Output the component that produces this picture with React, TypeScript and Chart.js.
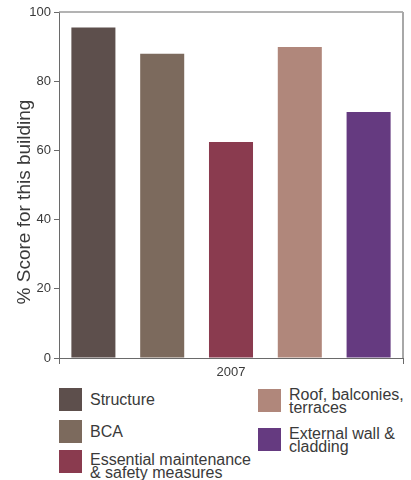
import React, { useEffect, useRef } from "react";
import { Chart, registerables } from "chart.js";

Chart.register(...registerables);

// Survey category and its series
const categories = ["2007"];
const seriesLabels = [
  "Structure",
  "BCA",
  "Essential maintenance\n& safety measures",
  "Roof, balconies,\nterraces",
  "External wall &\ncladding",
];
const seriesValues = [95.5, 87.9, 62.4, 89.9, 71.1];
const seriesColors = ["#5d4f4c", "#7c6a5d", "#8a3b4f", "#b0877b", "#653a80"];
const yTicks = [0, 20, 40, 60, 80, 100];
const yTitle = "% Score for this building";

const FONT = "'Liberation Sans', Arial, Helvetica, sans-serif";
const TEXT = "#3a3a3a";

// Frame (top and right edges) plus the rotated axis title
const framePlugin = {
  id: "frame",
  afterDraw(chart: any) {
    const { ctx, chartArea } = chart;
    ctx.save();
    ctx.strokeStyle = "#9a9a9a";
    ctx.lineWidth = 1.5;
    ctx.beginPath();
    ctx.moveTo(chartArea.left, chartArea.top);
    ctx.lineTo(chartArea.right, chartArea.top);
    ctx.stroke();
    ctx.lineWidth = 2;
    ctx.strokeStyle = "#a8a8a8";
    ctx.beginPath();
    ctx.moveTo(chartArea.right, chartArea.top);
    ctx.lineTo(chartArea.right, chartArea.bottom);
    ctx.stroke();

    ctx.translate(25, (chartArea.top + chartArea.bottom) / 2 + 17);
    ctx.rotate(-Math.PI / 2);
    ctx.fillStyle = TEXT;
    ctx.font = `19px ${FONT}`;
    ctx.textAlign = "center";
    ctx.textBaseline = "middle";
    ctx.fillText(yTitle, 0, 0);
    ctx.restore();
  },
};

export default function App() {
  const canvasRef = useRef<HTMLCanvasElement | null>(null);

  useEffect(() => {
    document.body.style.margin = "0";
    const canvas = canvasRef.current;
    if (!canvas) return;
    const chart = new Chart(canvas, {
      type: "bar",
      data: {
        labels: categories,
        datasets: seriesLabels.map((label, i) => ({
          label,
          data: [seriesValues[i]],
          backgroundColor: seriesColors[i],
          borderWidth: 0,
          categoryPercentage: 1,
          barPercentage: 0.64,
        })),
      },
      options: {
        responsive: false,
        animation: false,
        layout: { padding: { left: 0, right: 8, top: 12, bottom: 0 } },
        plugins: {
          legend: { display: false },
          tooltip: { enabled: false },
        },
        scales: {
          x: {
            grid: {
              display: true,
              drawOnChartArea: false,
              drawTicks: true,
              tickLength: 6,
              color: "#6a6a6a",
            },
            border: { display: true, color: "#6a6a6a", width: 1 },
            ticks: {
              color: TEXT,
              font: { family: FONT, size: 13 },
              padding: 1,
            },
            afterFit(scale: any) {
              scale.height = 27;
            },
          },
          y: {
            min: 0,
            max: 100,
            afterBuildTicks(scale: any) {
              scale.ticks = yTicks.map((v) => ({ value: v }));
            },
            grid: {
              display: true,
              drawOnChartArea: false,
              drawTicks: true,
              tickLength: 5,
              color: "#6a6a6a",
            },
            border: { display: true, color: "#6a6a6a", width: 1 },
            ticks: {
              color: TEXT,
              font: { family: FONT, size: 13 },
              padding: 3,
            },
            afterFit(scale: any) {
              scale.width = 59;
            },
          },
        },
      },
      plugins: [framePlugin],
    });
    return () => chart.destroy();
  }, []);

  // Legend placement: two columns under the plot
  const slots = [
    { x: 59, y: 388 },
    { x: 59, y: 420 },
    { x: 59, y: 450 },
    { x: 258, y: 389 },
    { x: 258, y: 428 },
  ];

  return (
    <div style={{ position: "relative", width: 411, height: 480, background: "#fff" }}>
      <canvas ref={canvasRef} width={411} height={385} style={{ display: "block" }} />
      {seriesLabels.map((label, i) => {
        const lines = label.split("\n");
        const s = slots[i];
        return (
          <div
            key={label}
            style={{
              position: "absolute",
              left: s.x,
              top: s.y,
              display: "flex",
              alignItems: "center",
              height: 23,
            }}
          >
            <div style={{ width: 23, height: 23, background: seriesColors[i], flex: "none" }} />
            <div
              style={{
                marginLeft: 8,
                fontFamily: FONT,
                fontSize: 16,
                lineHeight: lines.length > 1 ? "13px" : "23px",
                color: TEXT,
                whiteSpace: "nowrap",
                marginTop: lines.length > 1 && i === 2 ? 9 : 0,
              }}
            >
              {lines.map((l) => (
                <div key={l}>{l}</div>
              ))}
            </div>
          </div>
        );
      })}
    </div>
  );
}
